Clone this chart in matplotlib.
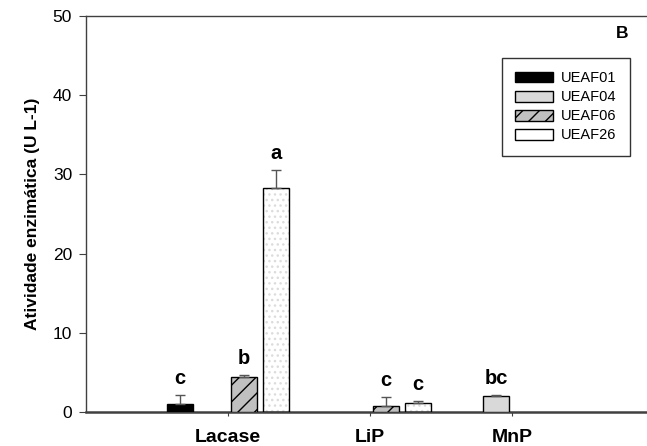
import numpy as np
import matplotlib.pyplot as plt

plt.rcParams['font.family'] = ['Liberation Sans', 'DejaVu Sans']

categories = ['Lacase', 'LiP', 'MnP']
series = ['UEAF01', 'UEAF04', 'UEAF06', 'UEAF26']

# nan = no bar for that strain
values = {
    'UEAF01': [1.0, np.nan, np.nan],
    'UEAF04': [np.nan, np.nan, 2.0],
    'UEAF06': [4.4, 0.75, np.nan],
    'UEAF26': [28.3, 1.1, np.nan],
}
errors = {
    'UEAF01': [1.2, 0, 0],
    'UEAF04': [0, 0, 0.2],
    'UEAF06': [0.3, 1.1, 0],
    'UEAF26': [2.3, 0.3, 0],
}
letters = {
    'UEAF01': ['c', '', ''],
    'UEAF04': ['', '', 'bc'],
    'UEAF06': ['b', 'c', ''],
    'UEAF26': ['a', 'c', ''],
}

styles = {
    'UEAF01': dict(color='black', hatch=None),
    'UEAF04': dict(color='#d9d9d9', hatch=None),
    'UEAF06': dict(color='#c0c0c0', hatch='//'),
    'UEAF26': dict(color='white', hatch='..'),
}

fig = plt.figure(figsize=(6.47, 4.46), dpi=100)
ax = fig.add_axes([0.133, 0.076, 0.867, 0.888])

x = np.arange(len(categories))
width = 0.183
step = 0.225
offsets = (np.arange(len(series)) - 1.5) * step

handles = []
for i, s in enumerate(series):
    v = np.array(values[s], dtype=float)
    e = np.array(errors[s], dtype=float)
    mask = ~np.isnan(v)
    xs = x[mask] + offsets[i]
    st = styles[s]
    if st['hatch'] == '..':
        # faint dot fill, then a black outline on top
        ax.bar(xs, v[mask], width, color='white', edgecolor='#dcdcdc',
               hatch='...', linewidth=0, zorder=2)
        ax.bar(xs, v[mask], width, fill=False, edgecolor='black',
               linewidth=1, zorder=3)
        handle = plt.Rectangle((0, 0), 1, 1, facecolor='white',
                               edgecolor='black', linewidth=1)
    else:
        ax.bar(xs, v[mask], width, color=st['color'], edgecolor='black',
               hatch=st['hatch'], linewidth=1, zorder=3)
        handle = plt.Rectangle((0, 0), 1, 1, facecolor=st['color'],
                               edgecolor='black', hatch=st['hatch'], linewidth=1)
    handles.append(handle)
    ax.errorbar(xs, v[mask], yerr=[np.zeros(mask.sum()), e[mask]], fmt='none',
                ecolor='#555555', elinewidth=1, capsize=3.3, capthick=1, zorder=4)
    for xi, vi, ei, lab in zip(xs, v[mask], e[mask], np.array(letters[s])[mask]):
        if lab:
            ax.annotate(lab, (xi, vi + ei), xytext=(0, 8), textcoords='offset points',
                        ha='center', va='baseline', fontsize=14.5, fontweight='bold')

ax.set_xlim(-1, 2.95)
ax.set_ylim(0, 50)
ax.set_yticks([0, 10, 20, 30, 40, 50])
ax.set_xticks(x)
ax.set_xticklabels(categories, fontsize=14, fontweight='bold')
ax.tick_params(axis='x', direction='out', length=3, pad=9, color='#404040')
ax.tick_params(axis='y', direction='out', length=5, pad=5, labelsize=12.5,
               color='#404040')
ax.set_ylabel('Atividade enzimática (U L-1)', fontsize=12.5, fontweight='bold',
              labelpad=9)

ax.spines['right'].set_visible(False)
for sp in ['left', 'top']:
    ax.spines[sp].set_color('#404040')
    ax.spines[sp].set_linewidth(1)
ax.spines['bottom'].set_color('#404040')
ax.spines['bottom'].set_linewidth(1.8)

leg = ax.legend(handles, series, loc='upper left', bbox_to_anchor=(0.7415, 0.894),
                borderaxespad=0, fontsize=10.5, frameon=True, fancybox=False,
                handlelength=2.6, handleheight=0.75, handletextpad=0.55,
                labelspacing=0.35, borderpad=0.9)
leg.get_frame().set_edgecolor('black')
leg.get_frame().set_linewidth(1)

ax.text(0.955, 0.955, 'B', transform=ax.transAxes, fontsize=12.5, fontweight='bold',
        ha='center', va='center')

fig.savefig('out.png', dpi=100)
